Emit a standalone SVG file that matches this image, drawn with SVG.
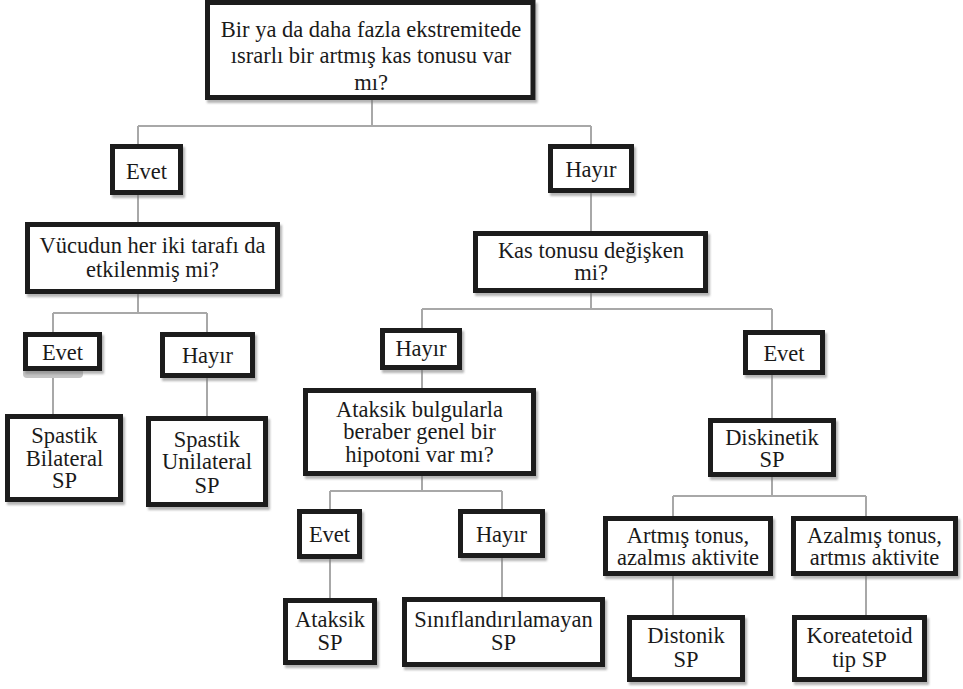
<svg xmlns="http://www.w3.org/2000/svg" width="963" height="689" viewBox="0 0 963 689">
<style>
.bg{fill:#ffffff}
.box{fill:#ffffff;stroke:#1a1a1a;stroke-width:5;filter:url(#sh)}
.c{stroke:#a8a8a8;stroke-width:2;fill:none}
text{font-family:"Liberation Serif","Times New Roman",serif;font-size:22.5px;fill:#1a1a1a;text-anchor:middle}
</style>
<defs>
<filter id="sh" x="-10%" y="-10%" width="125%" height="130%">
<feDropShadow dx="2" dy="3" stdDeviation="1.2" flood-color="#777" flood-opacity="0.55"/>
</filter>
</defs>
<rect class="bg" x="0" y="0" width="963" height="689"/>
<g id="connectors">
<path class="c" d="M372 100V126M138 126H591M138 126V144M591 126V144"/>
<path class="c" d="M138 195V222M591 193V231"/>
<path class="c" d="M138 294V313M53 313H207M53 313V332M207 313V332M53 378V414M207 378V416"/>
<path class="c" d="M591 293V309M422 309H772M422 309V328M772 309V330M422 370V388M772 375V418"/>
<path class="c" d="M422 476V491M330 491H502M330 491V509M502 491V509M330 559V598M502 558V597"/>
<path class="c" d="M772 477V496M673 496H866M673 496V516M866 496V516M673 576V615M866 576V615"/>
</g>
<g id="n_root"><rect class="box" x="207.5" y="2.5" width="325.5" height="95"/>
<text x="371" y="37">Bir ya da daha fazla ekstremitede</text>
<text x="371" y="63">ısrarlı bir artmış kas tonusu var</text>
<text x="371" y="90">mı?</text></g>
<g id="n_evet1"><rect class="box" x="112.5" y="146.5" width="68" height="46"/><text x="146.5" y="179">Evet</text></g>
<g id="n_hayir1"><rect class="box" x="550.5" y="146.5" width="81" height="44"/><text x="591" y="177">Hayır</text></g>
<g id="n_vucut"><rect class="box" x="27.5" y="224.5" width="250" height="67"/>
<text x="152.5" y="253">Vücudun her iki tarafı da</text><text x="152.5" y="277">etkilenmiş mi?</text></g>
<g id="n_evet2"><rect x="23" y="368" width="60" height="10" rx="4" fill="#c4c4c4"/><rect class="box" x="25.5" y="334.5" width="74" height="34"/><text x="62.5" y="360">Evet</text></g>
<g id="n_hayir2"><rect class="box" x="162.5" y="334.5" width="90" height="41"/><text x="207.5" y="363">Hayır</text></g>
<g id="n_bilateral"><rect class="box" x="7.5" y="416.5" width="113" height="83"/>
<text x="64.5" y="443">Spastik</text><text x="64.5" y="466">Bilateral</text><text x="64.5" y="488">SP</text></g>
<g id="n_unilateral"><rect class="box" x="148.5" y="418.5" width="117" height="86"/>
<text x="207" y="447">Spastik</text><text x="207" y="469">Unilateral</text><text x="207" y="493">SP</text></g>
<g id="n_kas"><rect class="box" x="475.5" y="233.5" width="230" height="57"/>
<text x="591" y="258">Kas tonusu değişken</text><text x="591" y="280">mi?</text></g>
<g id="n_hayir3"><rect class="box" x="382.5" y="330.5" width="77" height="37"/><text x="421" y="356">Hayır</text></g>
<g id="n_evet3"><rect class="box" x="745.5" y="332.5" width="77" height="40"/><text x="784" y="361">Evet</text></g>
<g id="n_ataksikq"><rect class="box" x="305.5" y="390.5" width="228" height="83"/>
<text x="419.5" y="417">Ataksik bulgularla</text><text x="419.5" y="439">beraber genel bir</text><text x="419.5" y="462">hipotoni var mı?</text></g>
<g id="n_evet4"><rect class="box" x="299.5" y="511.5" width="60" height="45"/><text x="329.5" y="542">Evet</text></g>
<g id="n_hayir4"><rect class="box" x="460.5" y="511.5" width="82" height="44"/><text x="501.5" y="542">Hayır</text></g>
<g id="n_ataksik"><rect class="box" x="285.5" y="600.5" width="89" height="62"/>
<text x="330" y="627">Ataksik</text><text x="330" y="650">SP</text></g>
<g id="n_sinif"><rect class="box" x="404.5" y="599.5" width="198" height="65"/>
<text x="503.5" y="627">Sınıflandırılamayan</text><text x="503.5" y="650">SP</text></g>
<g id="n_disk"><rect class="box" x="710.5" y="420.5" width="123" height="54"/>
<text x="772" y="445">Diskinetik</text><text x="772" y="467">SP</text></g>
<g id="n_artmis"><rect class="box" x="605.5" y="518.5" width="165" height="55"/>
<text x="688" y="543">Artmış tonus,</text><text x="688" y="565">azalmıs aktivite</text></g>
<g id="n_azalmis"><rect class="box" x="793.5" y="518.5" width="162" height="55"/>
<text x="874.5" y="543">Azalmış tonus,</text><text x="874.5" y="565">artmıs aktivite</text></g>
<g id="n_distonik"><rect class="box" x="629.5" y="617.5" width="113" height="62"/>
<text x="686" y="643">Distonik</text><text x="686" y="667">SP</text></g>
<g id="n_kore"><rect class="box" x="794.5" y="617.5" width="130" height="62"/>
<text x="859.5" y="643">Koreatetoid</text><text x="859.5" y="667">tip SP</text></g>
</svg>
